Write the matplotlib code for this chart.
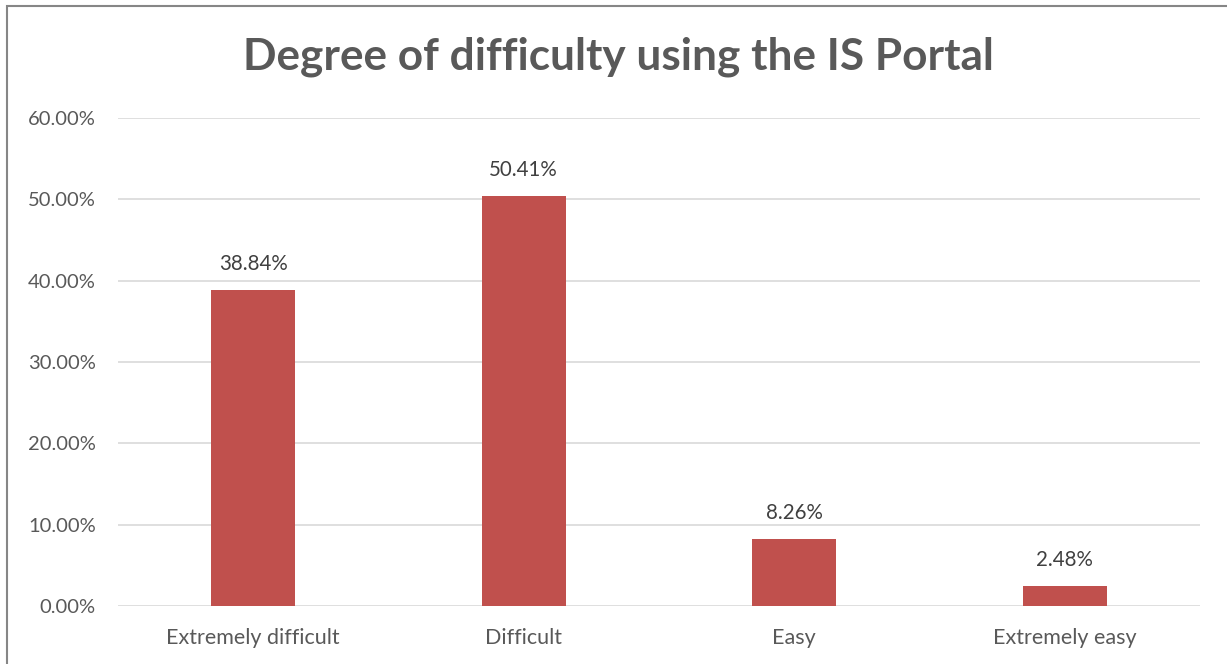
import matplotlib
matplotlib.use("Agg")
import matplotlib.pyplot as plt
from matplotlib.patches import Rectangle
from matplotlib.ticker import FuncFormatter

categories = ["Extremely difficult", "Difficult", "Easy", "Extremely easy"]
values = [38.84, 50.41, 8.26, 2.48]
yticks = [0, 10, 20, 30, 40, 50, 60]

plt.rcParams["font.family"] = ["Lato", "DejaVu Sans"]

fig = plt.figure(figsize=(12.27, 6.64), dpi=100)
ax = fig.add_axes([118 / 1227, 1 - 606 / 664, (1200 - 118) / 1227, (606 - 118) / 664])

x = range(len(categories))
bars = ax.bar(x, values, width=0.31, color="#c0504d", zorder=3)

for xi, v in zip(x, values):
    ax.text(xi, v + 2.0, "%.2f%%" % v, ha="center", va="bottom",
            fontsize=14.8, color="#404040")

ax.set_xlim(-0.5, len(categories) - 0.5)
ax.set_ylim(0, 60)
ax.set_yticks(yticks)
ax.yaxis.set_major_formatter(FuncFormatter(lambda v, _: "%.2f%%" % v))
ax.set_xticks(list(x))
ax.set_xticklabels(categories)
ax.tick_params(axis="both", length=0, colors="#595959")
ax.tick_params(axis="y", pad=16, labelsize=14.5)
ax.tick_params(axis="x", pad=16, labelsize=15.5)
ax.grid(axis="y", color="#d9d9d9", linewidth=1.2, zorder=0)
for s in ax.spines.values():
    s.set_visible(False)

fig.text(618 / 1227, 1 - 57 / 664, "Degree of difficulty using the IS Portal",
         ha="center", va="center", fontsize=31.8, fontweight="bold", color="#595959")

# outer chart border
fig.patches.append(Rectangle((7 / 1227, -0.1), 1.2, 1 - 6.5 / 664 + 0.1,
                             transform=fig.transFigure, fill=False,
                             edgecolor="#868686", linewidth=1.5))

fig.savefig("out.png", dpi=100)
